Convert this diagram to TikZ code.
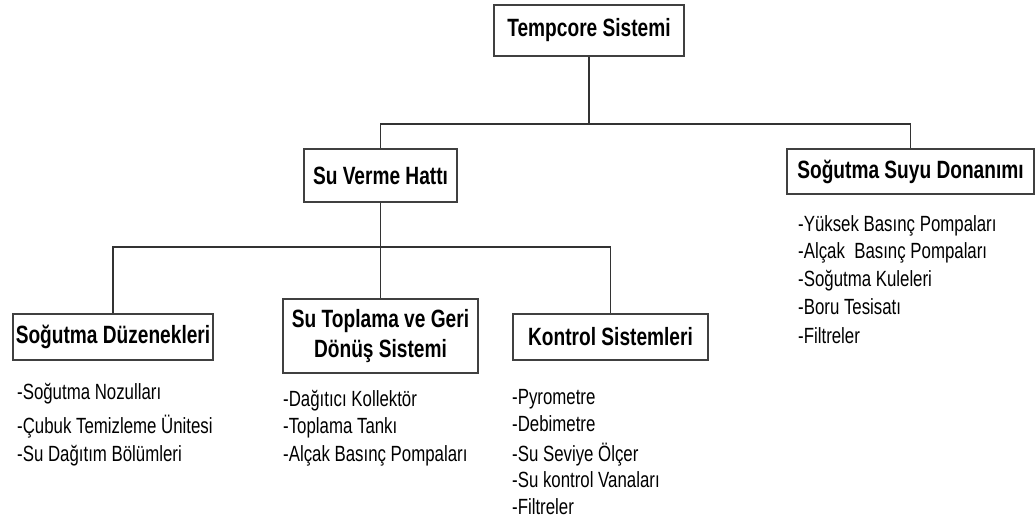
\documentclass[tikz,border=0pt]{standalone}
\usepackage{fontspec}
\setmainfont{Liberation Sans}[FakeStretch=0.765]
\begin{document}
\begin{tikzpicture}[x=1pt,y=1pt,
  box/.style={draw=black!75, line width=1.6pt, fill=white, inner sep=0pt,
    font=\fontsize{25}{30}\selectfont\bfseries, align=center},
  conn/.style={draw=black!80, line width=1.4pt},
  item/.style={anchor=west, inner sep=0pt, font=\fontsize{22}{26}\selectfont,
    text height=17pt, text depth=4pt}]
\useasboundingbox (0,0) rectangle (1035,-529);

% boxes
\node[box, minimum width=190pt, minimum height=51pt] (top) at (589,-30.5) {Tempcore Sistemi};
\node[box, minimum width=153pt, minimum height=53pt] (sv) at (380.5,-175.5) {Su Verme Hattı};
\node[box, minimum width=247pt, minimum height=45pt] (ss) at (910.5,-171.5) {Soğutma Suyu Donanımı};
\node[box, minimum width=200pt, minimum height=46pt] (sd) at (113,-337) {Soğutma Düzenekleri};
\node[box, minimum width=195pt, minimum height=74pt] (stg) at (380.5,-336) {Su Toplama ve Geri\\Dönüş Sistemi};
\node[box, minimum width=195pt, minimum height=46pt] (kon) at (610.5,-337) {Kontrol Sistemleri};

% connectors
\coordinate (j1) at (589,-124);
\coordinate (j2) at (380.5,-247);
\draw[conn] (top.south) -- (j1);
\draw[conn] (sv.north) |- (j1) -| (ss.north);
\draw[conn] (sv.south) -- (j2);
\draw[conn] (sd.north) |- (j2) -| (kon.north);
\draw[conn] (j2) -- (stg.north);

% lists
\node[item] (a1) at (17,-393) {-Soğutma Nozulları};
\node[item] (a2) at (17,-427) {-Çubuk Temizleme Ünitesi};
\node[item] (a3) at (17,-455) {-Su Dağıtım Bölümleri};

\node[item] (b1) at (283,-400) {-Dağıtıcı Kollektör};
\node[item] (b2) at (283,-427) {-Toplama Tankı};
\node[item] (b3) at (283,-455) {-Alçak Basınç Pompaları};

\node[item] (c1) at (512,-398) {-Pyrometre};
\node[item] (c2) at (512,-425) {-Debimetre};
\node[item] (c3) at (512,-455) {-Su Seviye Ölçer};
\node[item] (c4) at (512,-481) {-Su kontrol Vanaları};
\node[item] (c5) at (512,-508) {-Filtreler};

\node[item] (d1) at (798,-225) {-Yüksek Basınç Pompaları};
\node[item] (d2) at (798,-252) {-Alçak~ Basınç Pompaları};
\node[item] (d3) at (798,-280) {-Soğutma Kuleleri};
\node[item] (d4) at (798,-308) {-Boru Tesisatı};
\node[item] (d5) at (798,-337) {-Filtreler};
\end{tikzpicture}
\end{document}
